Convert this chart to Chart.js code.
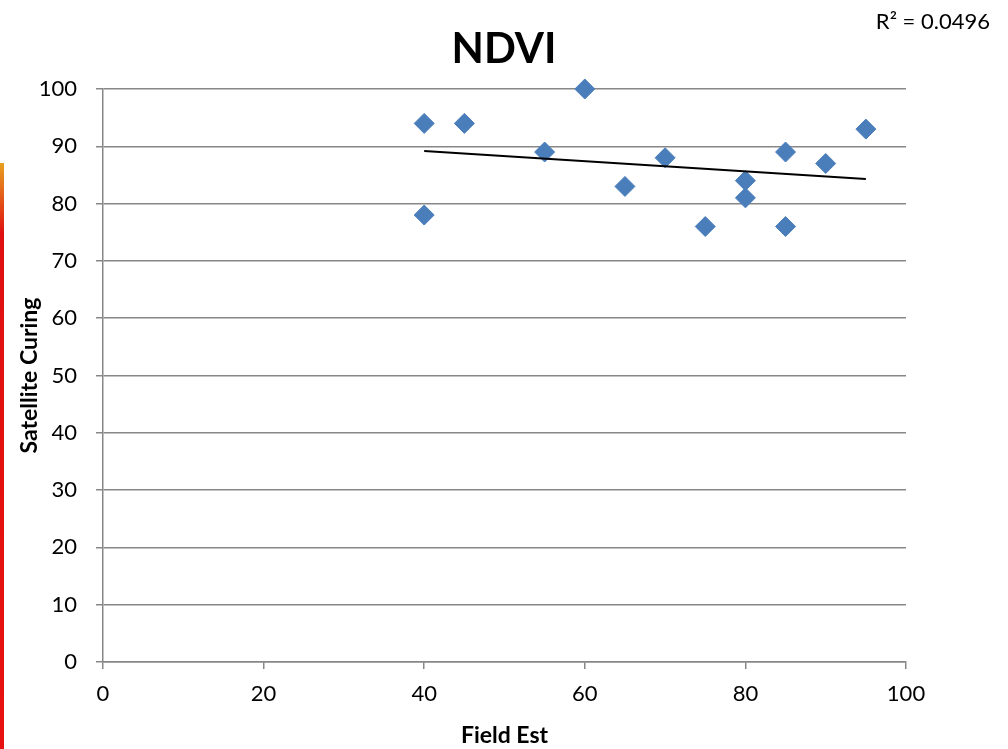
<!DOCTYPE html>
<html>
<head>
<meta charset="utf-8">
<script src="https://cdn.jsdelivr.net/npm/chart.js@4.4.0/dist/chart.umd.min.js"></script>
<style>
  html, body { margin: 0; padding: 0; background: #fff; }
  #wrap { position: relative; width: 1008px; height: 749px; }
  #edge { position: absolute; left: 0; top: 163px; width: 4px; height: 586px;
          background: linear-gradient(#e8a020, #e01010 12%, #e81010); }
</style>
</head>
<body>
<div id="wrap">
  <div id="edge"></div>
  <canvas id="chart"></canvas>
</div>
<script>
// field estimate vs satellite curing
const fieldEst = [40, 40, 45, 55, 60, 65, 70, 75, 80, 80, 85, 85, 90, 95];
const satCuring = [94, 78, 94, 89, 100, 83, 88, 76, 84, 81, 89, 76, 87, 93];

// linear trendline ends
const trendX = [40, 95];
const trendY = [89.2, 84.3];

const xTicks = [0, 20, 40, 60, 80, 100];
const yTicks = [0, 10, 20, 30, 40, 50, 60, 70, 80, 90, 100];
const chartTitle = "NDVI";
const rSquared = "R\u00B2 = 0.0496";

const FONT = "Lato, 'Open Sans', sans-serif";
const GRID = "#878787";

// title centred on the whole canvas + the R² note in the corner
const headerText = {
  id: "headerText",
  afterDraw(chart) {
    const c = chart.ctx;
    c.save();
    c.fillStyle = "#000";
    c.textBaseline = "middle";
    c.textAlign = "center";
    c.font = "bold 42px " + FONT;
    c.fillText(chartTitle, chart.width / 2, 49);
    c.textAlign = "right";
    c.font = "22px " + FONT;
    c.fillText(rSquared, chart.chartArea.right + 84, 22);
    c.restore();
  },
};

const ctx = document.getElementById("chart").getContext("2d");
new Chart(ctx, {
  type: "scatter",
  data: {
    datasets: [
      {
        label: "NDVI",
        data: fieldEst.map((x, i) => ({ x: x, y: satCuring[i] })),
        pointStyle: "rectRot",
        pointRadius: 10,
        pointHoverRadius: 10,
        backgroundColor: "#4a7ebb",
        borderColor: "#4a7ebb",
        borderWidth: 1,
        clip: false,
        order: 2,
      },
      {
        label: "Linear",
        type: "line",
        data: trendX.map((x, i) => ({ x: x, y: trendY[i] })),
        borderColor: "#000",
        borderWidth: 2,
        pointRadius: 0,
        fill: false,
        order: 1,
      },
    ],
  },
  options: {
    responsive: true,
    maintainAspectRatio: false,
    animation: false,
    layout: { padding: { left: 0, right: 102, top: 89, bottom: 0 } },
    plugins: {
      legend: { display: false },
      tooltip: { enabled: false },
      title: { display: false },
    },
    scales: {
      x: {
        type: "linear",
        min: 0,
        max: 100,
        afterBuildTicks: (scale) => {
          scale.ticks = xTicks.map((v) => ({ value: v }));
        },
        afterFit: (scale) => {
          scale.height = 87;
        },
        grid: { drawOnChartArea: false, drawTicks: true, tickLength: 7, color: GRID, lineWidth: 1.5 },
        border: { color: GRID, width: 1.5 },
        ticks: { color: "#000", font: { family: FONT, size: 22 }, padding: 12, maxRotation: 0 },
        title: {
          display: true,
          text: "Field Est",
          color: "#000",
          font: { family: FONT, size: 23, weight: "bold" },
          padding: { top: 6, bottom: 0 },
        },
      },
      y: {
        type: "linear",
        min: 0,
        max: 100,
        afterBuildTicks: (scale) => {
          scale.ticks = yTicks.map((v) => ({ value: v }));
        },
        afterFit: (scale) => {
          scale.width = 103;
        },
        grid: { drawTicks: true, tickLength: 7, color: GRID, lineWidth: 1.5 },
        border: { color: GRID, width: 1.5 },
        ticks: { color: "#000", font: { family: FONT, size: 22 }, padding: 19 },
        title: {
          display: true,
          text: "Satellite Curing",
          color: "#000",
          font: { family: FONT, size: 23, weight: "bold" },
          padding: { top: 16, bottom: 0 },
        },
      },
    },
  },
  plugins: [headerText],
});
</script>
</body>
</html>
